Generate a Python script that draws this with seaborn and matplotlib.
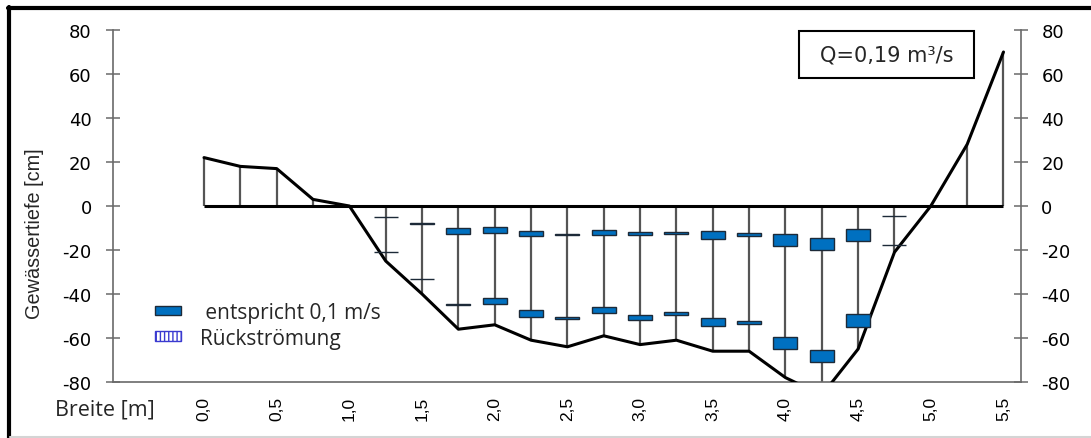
import numpy as np
import pandas as pd
import matplotlib
matplotlib.use("Agg")
import matplotlib.pyplot as plt
import seaborn as sns
from matplotlib.patches import Patch, Rectangle
from matplotlib.lines import Line2D

# ---------------- data ----------------
stations = [0.0, 0.25, 0.5, 0.75, 1.0, 1.25, 1.5, 1.75, 2.0, 2.25, 2.5, 2.75,
            3.0, 3.25, 3.5, 3.75, 4.0, 4.25, 4.5, 4.75, 5.0, 5.25, 5.5]
bed_cm = [22, 18, 17, 3, 0, -25, -40, -56, -54, -61, -64, -59,
          -63, -61, -66, -66, -78, -86, -65, -21, 0, 28, 70]

meas_x = [1.25, 1.5, 1.75, 2.0, 2.25, 2.5, 2.75, 3.0, 3.25, 3.5, 3.75, 4.0, 4.25, 4.5, 4.75]
upper_depth = [-5, -8, -11.4, -10.8, -12.4, -12.8, -12, -12.5, -12.2, -13.2, -12.9, -15.5, -17.2, -13.2, -4.6]
upper_v = [0, 0.02, 0.085, 0.09, 0.07, 0.015, 0.07, 0.03, 0.03, 0.12, 0.04, 0.16, 0.18, 0.16, 0]
lower_depth = [-21, -33, -44.7, -43.2, -48.9, -51, -47.3, -50.6, -49, -52.8, -52.8, -62.3, -68.1, -52, -17.8]
lower_v = [0, 0, 0.02, 0.095, 0.095, 0.02, 0.085, 0.07, 0.04, 0.115, 0.04, 0.165, 0.165, 0.19, 0]

x_ticks = [0.0, 0.5, 1.0, 1.5, 2.0, 2.5, 3.0, 3.5, 4.0, 4.5, 5.0, 5.5]
x_ticklabels = ["0,0", "0,5", "1,0", "1,5", "2,0", "2,5", "3,0", "3,5", "4,0", "4,5", "5,0", "5,5"]
y_ticks = [-80, -60, -40, -20, 0, 20, 40, 60, 80]

legend_labels = [" entspricht 0,1 m/s", "Rückströmung"]
q_label = "Q=0,19 m³/s"
x_label = "Breite [m]"
y_label = "Gewässertiefe [cm]"

# ---------------- style ----------------
sns.set_style("white")
plt.rcParams["font.family"] = ["DejaVu Sans"]
plt.rcParams["axes.unicode_minus"] = False
plt.rcParams["hatch.color"] = "#3a3ad0"

W, H = 1091, 439
fig = plt.figure(figsize=(W / 100, H / 100), dpi=100)
ax = fig.add_axes([112.5 / W, 1 - 383 / H, (1020.5 - 112.5) / W, (383 - 31) / H])

SPINE = "#6a6a6a"
BLUE = "#0070C0"
EDGE = "#1d2a38"
CM_PER_MS = 32.0      # 0.1 m/s drawn as 3.2 cm of axis height
BAR_W = 0.165

# verticals
ax.vlines(stations, 0, bed_cm, colors="#555555", lw=1.6, zorder=2)
# water surface line
ax.hlines(0, stations[0], stations[-1], colors="black", lw=2.2, zorder=3)
# bed profile
sns.lineplot(x=stations, y=bed_cm, ax=ax, color="black", lw=2.2, zorder=3, sort=False)

# velocity markers
for depth, vel in ((upper_depth, upper_v), (lower_depth, lower_v)):
    h = np.array(vel) * CM_PER_MS
    ax.bar(meas_x, h, width=BAR_W, bottom=np.array(depth) - h / 2,
           color=BLUE, edgecolor=EDGE, linewidth=1.0, zorder=4)

ax.set_xlim(-0.6295, 5.617)
ax.set_ylim(-80, 80)
ax.set_yticks(y_ticks)
ax.set_yticklabels([str(v) for v in y_ticks])
ax.set_xticks(x_ticks)
ax.set_xticklabels(x_ticklabels, rotation=90, fontfamily="Liberation Sans", fontsize=12.5)

for s in ["top", "right"]:
    ax.spines[s].set_visible(False)
for s in ["left", "bottom"]:
    ax.spines[s].set_color(SPINE)
    ax.spines[s].set_linewidth(1.2)

ax.tick_params(axis="y", direction="inout", length=10, width=1.1, color=SPINE,
               pad=10, labelsize=13, labelcolor="black")
ax.tick_params(axis="x", length=0, pad=10, labelcolor="black")

ax2 = ax.twinx()
ax2.set_ylim(-80, 80)
ax2.set_yticks(y_ticks)
ax2.set_yticklabels([str(v) for v in y_ticks])
for s in ["top", "left", "bottom"]:
    ax2.spines[s].set_visible(False)
ax2.spines["right"].set_color(SPINE)
ax2.spines["right"].set_linewidth(1.2)
ax2.tick_params(axis="y", direction="inout", length=10, width=1.1, color=SPINE,
                pad=10, labelsize=13, labelcolor="black")

# legend
handles = [Patch(facecolor=BLUE, edgecolor=EDGE, linewidth=1.0),
           Patch(facecolor="white", edgecolor="#3a3ad0", hatch="||||", linewidth=1.0)]
leg = ax.legend(handles, legend_labels, loc="upper left",
                bbox_to_anchor=(155 / W, 1 - 303 / H), bbox_transform=fig.transFigure,
                frameon=False, borderpad=0, borderaxespad=0,
                handlelength=1.25, handleheight=0.34, handletextpad=0.9,
                labelspacing=0.22, prop={"family": "Open Sans", "size": 15})

# axis labels
fig.text(35 / W, 1 - 234 / H, y_label, rotation=90, ha="center", va="center",
         fontfamily="Liberation Sans", fontsize=14.3)
fig.text(55 / W, 1 - 410 / H, x_label, ha="left", va="center",
         fontfamily="Open Sans", fontsize=15.5)

# Q box
fig.add_artist(Rectangle((799 / W, 1 - 79 / H), 175 / W, 47 / H, transform=fig.transFigure,
                         facecolor="white", edgecolor="black", lw=1.5))
fig.text(886.5 / W, 1 - 56 / H, q_label, ha="center", va="center", fontsize=15)

# outer frame
fig.add_artist(Line2D([9 / W, 9 / W], [0.5 / H, 1 - 7.5 / H], transform=fig.transFigure,
                      color="black", lw=3))
fig.add_artist(Line2D([7.5 / W, 1], [1 - 9 / H, 1 - 9 / H], transform=fig.transFigure,
                      color="black", lw=3))
fig.add_artist(Line2D([10 / W, 1], [1 - 437.5 / H, 1 - 437.5 / H], transform=fig.transFigure,
                      color="#d4d4d4", lw=1.5))

fig.savefig("out.png", dpi=100)
